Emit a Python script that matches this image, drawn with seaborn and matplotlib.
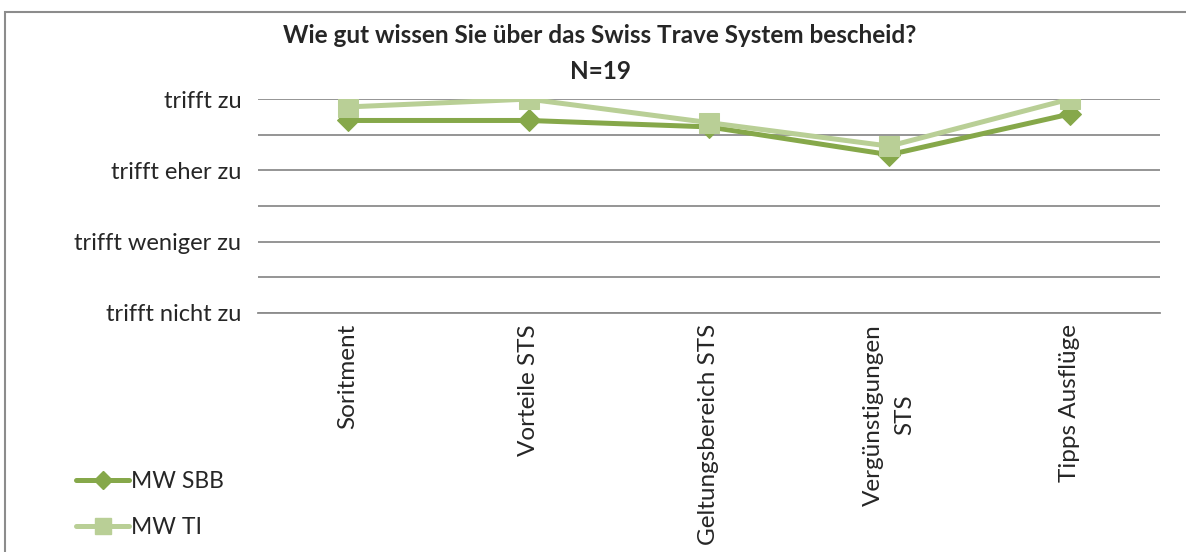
import numpy as np
import pandas as pd
import seaborn as sns
import matplotlib.pyplot as plt
from matplotlib.lines import Line2D
from matplotlib.patches import Rectangle

categories = ['Soritment', 'Vorteile STS', 'Geltungsbereich STS', 'Vergünstigungen\nSTS', 'Tipps Ausflüge']
mw_sbb = [3.70, 3.70, 3.61, 3.22, 3.79]
mw_ti = [3.89, 4.00, 3.67, 3.34, 4.00]
y_levels = [1, 2, 3, 4]
y_labels = ['trifft nicht zu', 'trifft weniger zu', 'trifft eher zu', 'trifft zu']

sbb_color = '#86A84A'
ti_color = '#B9CF96'

sns.set_style("white")
plt.rcParams['font.family'] = ['Lato', 'DejaVu Sans']

fig = plt.figure(figsize=(11.86, 5.52), dpi=100)
ax = fig.add_axes([0.2175, 0.433, 0.7605, 0.3875])

x = np.arange(len(categories))
sns.lineplot(x=x, y=mw_ti, ax=ax, color=ti_color, linewidth=3.6, marker='s',
             markersize=14, markeredgecolor=ti_color, legend=False, zorder=3)
sns.lineplot(x=x, y=mw_sbb, ax=ax, color=sbb_color, linewidth=3.6, marker='D',
             markersize=11, markeredgecolor=sbb_color, legend=False, zorder=2)

ax.set_xlim(-0.5, len(categories) - 0.5)
ax.set_ylim(1, 4)
ax.set_yticks(y_levels)
ax.set_yticklabels(y_labels, fontsize=17)
ax.set_yticks(np.arange(1, 4.01, 0.5), minor=True)
ax.grid(True, which='both', axis='y', color='#8c8c8c', linewidth=1.3)
ax.tick_params(axis='y', which='both', length=0, pad=12)
ax.set_xticks(x)
ax.set_xticklabels(categories, rotation=90, fontsize=17.5, va='top', ha='center', linespacing=1.6)
ax.tick_params(axis='x', length=0, pad=8)
for s in ['top', 'right', 'left']:
    ax.spines[s].set_visible(False)
ax.spines['bottom'].set_color('#8c8c8c')
ax.spines['bottom'].set_linewidth(1.3)
ax.set_xlabel('')
ax.set_ylabel('')

# legend in the lower left corner
handles = [Line2D([], [], color=sbb_color, linewidth=3.6, marker='D', markersize=9),
           Line2D([], [], color=ti_color, linewidth=3.6, marker='s', markersize=11)]
fig.legend(handles, ['MW SBB', 'MW TI'], loc='lower left', bbox_to_anchor=(0.047, -0.012),
           frameon=False, fontsize=16.5, handlelength=2.3, handletextpad=0.1, labelspacing=1.1)

fig.text(0.506, 0.956, 'Wie gut wissen Sie über das Swiss Trave System bescheid?\nN=19',
         ha='center', va='top', fontsize=17.5, fontweight='bold', linespacing=1.65)

fig.patches.append(Rectangle((5 / 1186, -0.05), 1.2, 1.05 - 12 / 552, transform=fig.transFigure,
                             fill=False, edgecolor='#8c8c8c', linewidth=1.5))

plt.savefig('out.png', dpi=100)
